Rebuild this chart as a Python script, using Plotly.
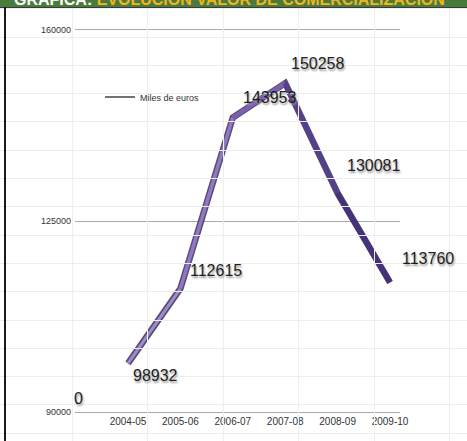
import plotly.graph_objects as go

# ---- data ----
seasons = ["2004-05", "2005-06", "2006-07", "2007-08", "2008-09", "2009-10"]
values = [98932, 112615, 143953, 150258, 130081, 113760]
y_ticks = [90000, 125000, 160000]
series_name = "Miles de euros"
title_white = "GRÁFICA:"
title_yellow = "EVOLUCIÓN VALOR DE COMERCIALIZACIÓN"

W, H = 467, 441

# style (per-segment colours / widths to imitate the shaded 3D line)
seg_colors = ["#a08bcc", "#9278c4", "#7a5fb3", "#55408c", "#45327a"]
seg_widths = [3, 3.5, 4.5, 5, 5.5]
label_shift = [(3, -12), (8, 18), (8, 20), (4, 20), (7, 28), (10, 24)]

fig = go.Figure()

# background page grid (spreadsheet-like)
fig.add_trace(go.Scatter(x=[0, W], y=[0, H], mode="markers", marker=dict(opacity=0),
                         xaxis="x2", yaxis="y2", showlegend=False, hoverinfo="skip"))

# thin line carrying the legend entry
fig.add_trace(go.Scatter(x=seasons, y=values, mode="lines", name=series_name,
                         line=dict(color="#444444", width=1.3)))
# shadow/base line
fig.add_trace(go.Scatter(x=seasons, y=values, mode="lines", showlegend=False,
                         line=dict(color="#2f2150", width=6.5), opacity=0.8,
                         hoverinfo="skip"))
# shaded segments on top
for i in range(len(seasons) - 1):
    fig.add_trace(go.Scatter(x=seasons[i:i + 2], y=values[i:i + 2], mode="lines",
                             line=dict(color=seg_colors[i], width=seg_widths[i]),
                             showlegend=False, hoverinfo="skip"))

lab_font = dict(family="Liberation Sans, Arial", size=16, color="#1e1e1e",
                shadow="1px 2px 2px #9a9a9a")
# data labels
for s, v, (dx, dy) in zip(seasons, values, label_shift):
    fig.add_annotation(x=s, y=v, text=str(v), showarrow=False, xanchor="left",
                       yanchor="middle", xshift=dx, yshift=dy, font=lab_font)

# "0" label near the base
fig.add_annotation(x=seasons[0], y=y_ticks[0], text="0", showarrow=False,
                   xanchor="center", yanchor="bottom", xshift=-50, yshift=3, font=lab_font)

# title bar (mostly cut off at top of page)
fig.add_shape(type="rect", xref="paper", yref="paper", x0=0, x1=1, y0=1 - 7 / H, y1=1.02,
              fillcolor="#4a7b3d", line=dict(width=0), layer="above")
fig.add_shape(type="line", xref="paper", yref="paper", x0=0, x1=1, y0=1 - 7.5 / H, y1=1 - 7.5 / H,
              line=dict(color="#3a3a3a", width=1), layer="above")
fig.add_annotation(xref="paper", yref="paper", x=12 / W, y=1, xanchor="left", yanchor="bottom",
                   yshift=-10, showarrow=False,
                   text=f"<b><span style='color:#ffffff'>{title_white}</span> "
                        f"<span style='color:#f2b51d'>{title_yellow}</span></b>",
                   font=dict(family="Liberation Sans, Arial", size=16))
# left frame line
fig.add_shape(type="line", xref="paper", yref="paper", x0=5 / W, x1=5 / W, y0=0, y1=1 - 7 / H,
              line=dict(color="#1a1a1a", width=2), layer="above")

x_lo, x_hi = 75, 400
step = 52.4
y_top_px, y_bot_px = 27.8, 414.2
fig.update_layout(
    template="none",
    width=W, height=H,
    margin=dict(l=0, r=0, t=0, b=0, pad=0),
    paper_bgcolor="white", plot_bgcolor="rgba(0,0,0,0)",
    xaxis=dict(domain=[x_lo / W, x_hi / W], type="category", automargin=False,
               range=[(x_lo - 128) / step, (x_hi - 128) / step],
               showgrid=False, zeroline=False, showline=False, ticks="",
               tickfont=dict(family="Liberation Sans, Arial", size=10, color="#333"),
               ticklabelstandoff=0),
    yaxis=dict(domain=[(H - y_bot_px) / H, (H - y_top_px) / H], range=[89600, 160400],
               tickvals=y_ticks, ticktext=[str(t) for t in y_ticks], automargin=False,
               showgrid=True, gridcolor="#a9a9a9", gridwidth=1.3, zeroline=False,
               showline=False, ticks="",
               tickfont=dict(family="Liberation Sans, Arial", size=9, color="#333"),
               ticklabelstandoff=3),
    xaxis2=dict(domain=[0, 1], range=[0, W], showgrid=True, gridcolor="#efefef",
                tick0=72, dtick=75.5, showticklabels=False, zeroline=False, automargin=False,
                anchor="y2", layer="below traces"),
    yaxis2=dict(domain=[0, 1], range=[H, 0], showgrid=True, gridcolor="#ededed",
                tick0=37, dtick=28.3, showticklabels=False, zeroline=False, automargin=False,
                anchor="x2", layer="below traces"),
    showlegend=True,
    legend=dict(x=100 / W, y=(H - 97) / H, xanchor="left", yanchor="middle",
                bgcolor="rgba(0,0,0,0)", itemwidth=30,
                font=dict(family="Liberation Sans, Arial", size=9, color="#333")),
)
fig.write_html("out.html", config={"displayModeBar": False},
               post_script="document.body.style.margin='0';document.body.style.padding='0';")
